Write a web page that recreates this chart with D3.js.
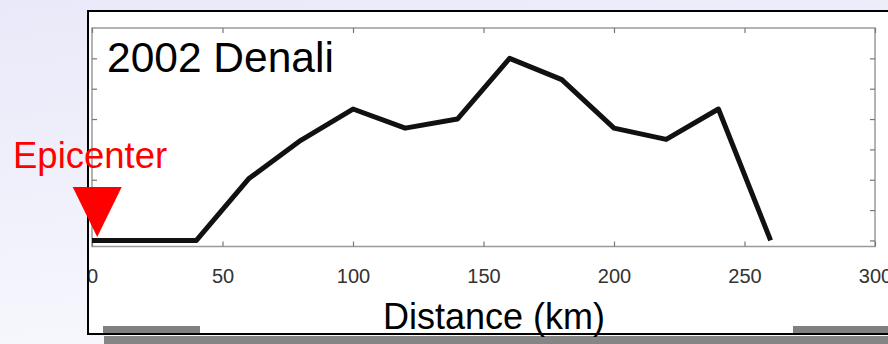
<!DOCTYPE html>
<html><head><meta charset="utf-8">
<script src="https://cdn.jsdelivr.net/npm/d3@7"></script>
<style>
html,body{margin:0;padding:0;background:#f3f3fc;}
svg{display:block;font-family:"Liberation Sans",Arial,Helvetica,sans-serif;}
</style></head>
<body>
<svg id="chart" width="888" height="344"></svg>
<script>
// Data
const distances = [0, 40, 60, 80, 100, 120, 140, 160, 180, 200, 220, 240, 260];
const values    = [0, 0, 2.03, 3.3, 4.33, 3.7, 4.0, 6.0, 5.3, 3.7, 3.33, 4.33, 0];
const xTicks = [0, 50, 100, 150, 200, 250, 300];
const yTicks = [0, 1, 2, 3, 4, 5, 6];
const titleText = "2002 Denali";
const xLabel = "Distance (km)";
const epicenterLabel = "Epicenter";
const epicenterKm = 2;

const svg = d3.select("#chart");

// background gradient
const defs = svg.append("defs");
const g1 = defs.append("linearGradient").attr("id","bg").attr("x1","0").attr("y1","0").attr("x2","0.3").attr("y2","1");
g1.append("stop").attr("offset","0").attr("stop-color","#e9e9f9");
g1.append("stop").attr("offset","1").attr("stop-color","#f7f7fd");
svg.append("rect").attr("width",888).attr("height",344).attr("fill","url(#bg)");

// panel
svg.append("rect").attr("x",88).attr("y",11).attr("width",830).attr("height",323)
  .attr("fill","#fff").attr("stroke","#000").attr("stroke-width",2);
// gray bars at the bottom
svg.append("rect").attr("x",103).attr("y",326).attr("width",97).attr("height",7).attr("fill","#808080");
svg.append("rect").attr("x",793).attr("y",326).attr("width",95).attr("height",7).attr("fill","#808080");
svg.append("rect").attr("x",104).attr("y",336).attr("width",784).attr("height",8).attr("fill","#858585");

const L = 92, R = 875, T = 28, B = 246.5;
const x = d3.scaleLinear().domain([0,300]).range([L,R]);
const y = d3.scaleLinear().domain([-0.2,7]).range([B,T]);

defs.append("clipPath").attr("id","clipPanel").append("rect")
  .attr("x",89).attr("y",12).attr("width",800).attr("height",320);

const axG = svg.append("g").attr("clip-path","url(#clipPanel)");

// axes box
axG.append("rect").attr("x",L).attr("y",T).attr("width",R-L).attr("height",B-T)
  .attr("fill","none").attr("stroke","#9a9a9a").attr("stroke-width",1.5);

const styleAxis = g => {
  g.select(".domain").remove();
  g.selectAll(".tick line").attr("stroke","#777").attr("stroke-width",1.2);
  g.selectAll("text").attr("fill","#333").attr("font-size",20)
    .attr("font-family","Liberation Sans, Arial, sans-serif");
};

axG.append("g").attr("transform",`translate(0,${B})`)
  .call(d3.axisBottom(x).tickValues(xTicks).tickSizeInner(-5).tickSizeOuter(0).tickPadding(22).tickFormat(d3.format("d")))
  .call(styleAxis);
axG.append("g").attr("transform",`translate(0,${T})`)
  .call(d3.axisTop(x).tickValues(xTicks).tickSizeInner(-5).tickSizeOuter(0).tickFormat(""))
  .call(styleAxis);
axG.append("g").attr("transform",`translate(${L},0)`)
  .call(d3.axisLeft(y).tickValues(yTicks).tickSizeInner(-5).tickSizeOuter(0).tickFormat(""))
  .call(styleAxis);
axG.append("g").attr("transform",`translate(${R},0)`)
  .call(d3.axisRight(y).tickValues(yTicks).tickSizeInner(-5).tickSizeOuter(0).tickFormat(""))
  .call(styleAxis);

// line
const line = d3.line().x((d,i)=>x(distances[i])).y(d=>y(d));
svg.append("path").datum(values).attr("d",line)
  .attr("fill","none").attr("stroke","#111").attr("stroke-width",5)
  .attr("stroke-linejoin","round").attr("stroke-linecap","butt");

// title
svg.append("text").attr("x",107).attr("y",72).attr("font-size",42.5).attr("fill","#000").text(titleText);

// x label
svg.append("text").attr("x",383).attr("y",329).attr("font-size",36).attr("fill","#000").text(xLabel);

// epicenter
const ex = x(epicenterKm);
const triTop = 187, triBot = 237, half = 24.5;
svg.append("path").attr("d",`M${ex-half},${triTop}L${ex+half},${triTop}L${ex},${triBot}Z`).attr("fill","#ff0000");
svg.append("text").attr("x",13).attr("y",168).attr("font-size",36.5).attr("fill","#ff0000").text(epicenterLabel);
</script>
</body></html>
